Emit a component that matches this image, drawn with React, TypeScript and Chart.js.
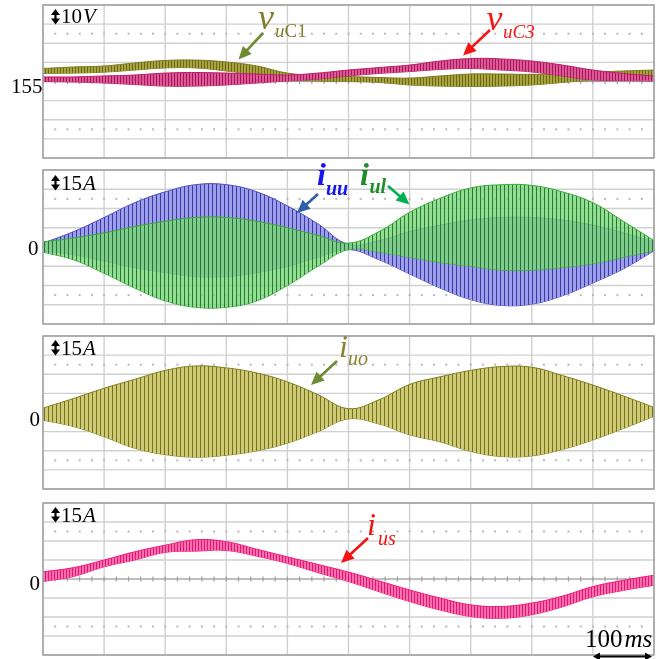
import React, { useEffect, useRef } from "react";
import { Chart, registerables } from "chart.js";
Chart.register(...registerables);

// ---------- data (time in ms, 21 samples) ----------
const timeMs = [0, 50, 100, 150, 200, 250, 300, 350, 400, 450, 500, 550, 600, 650, 700, 750, 800, 850, 900, 950, 1000];
const xGridMs = [0, 100, 200, 300, 400, 500, 600, 700, 800, 900, 1000];

// Panel 1: capacitor voltages (V), ripple envelopes
const vuC1Upper = [161.8, 162.6, 163.1, 164.7, 166.0, 166.2, 165.2, 163.1, 159.4, 158.1, 157.6, 157.1, 156.8, 157.9, 158.9, 158.9, 158.7, 159.2, 159.9, 160.5, 161.0];
const vuC1Lower = [159.2, 159.4, 159.9, 161.0, 162.1, 162.1, 160.5, 158.4, 156.3, 155.3, 155.0, 154.5, 153.2, 152.6, 152.4, 152.6, 153.2, 154.5, 155.8, 156.8, 157.9];
const vuC3Upper = [157.4, 157.4, 157.9, 158.4, 159.4, 159.7, 159.4, 158.9, 158.4, 159.4, 161.0, 162.3, 163.6, 165.7, 167.0, 166.8, 165.7, 163.6, 161.0, 159.2, 157.9];
const vuC3Lower = [155.0, 154.7, 154.2, 153.4, 152.6, 152.6, 153.2, 154.2, 155.3, 156.3, 157.9, 159.2, 160.2, 161.3, 161.8, 161.0, 160.0, 157.9, 155.8, 155.5, 155.3];

// Panel 2: arm currents (A)
const iuuUpper = [3, 12, 23, 34.5, 43, 48.6, 48.6, 43, 32, 18, 2, 5, 12, 17, 21, 23, 23, 21, 17, 11, 4];
const iuuLower = [-3, -6, -11, -16, -20, -23, -23, -20, -15, -8, -2, -10, -21, -32, -41, -45.5, -44.5, -38, -28, -17, -3];
const iulUpper = [4, 7, 11, 16, 20, 23, 23, 20, 15, 9, 3, 12, 27, 38, 46, 48.5, 48, 43, 34.5, 20, 5];
const iulLower = [-4, -10, -20.5, -32, -42, -47, -47, -42, -30, -15, -2, -4, -8, -12, -15, -18, -18, -16, -13, -8, -3];

// Panel 3: i_uo (A)
const iuoUpper = [3.5, 11, 19, 26, 33, 36.5, 35, 31, 24, 14, 3, 10, 22, 28, 33, 36, 35.5, 29, 21.5, 13, 4];
const iuoLower = [-6, -11, -19, -28, -33, -35, -33.5, -30, -24, -15, -5, -9, -17.5, -23, -30.5, -34.5, -34, -29, -21.5, -12.5, -3];

// Panel 4: i_us (A)
const iusUpper = [5.7, 9, 15, 21.5, 26.7, 31, 29.5, 23.5, 17.5, 11.5, 5.5, -1.5, -8.6, -15, -20.4, -21.7, -19, -13.5, -6, -1, 3];
const iusLower = [-2, 2, 9.6, 15, 21, 22, 22.5, 18, 12.3, 5, -2, -10, -17.8, -24.5, -29.6, -31, -28.2, -22, -14, -9, -5];

const scaleLabels = [["10", "V"], ["15", "A"], ["15", "A"], ["15", "A"]];
const levelLabels = ["155", "0", "0", "0"];
const timeScaleLabel = ["100", "ms"];

// ---------- drawing helpers ----------
const SERIF = '"Liberation Serif", "Times New Roman", Times, serif';
const font = (size: number, italic = false, bold = false) =>
  `${italic ? "italic " : ""}${bold ? "bold " : ""}${size}px ${SERIF}`;

function seg(ctx: CanvasRenderingContext2D, x1: number, y1: number, x2: number, y2: number) {
  ctx.beginPath();
  ctx.moveTo(x1, y1);
  ctx.lineTo(x2, y2);
  ctx.stroke();
}

function head(ctx: CanvasRenderingContext2D, fx: number, fy: number, tx: number, ty: number, len: number, hw: number) {
  const a = Math.atan2(ty - fy, tx - fx);
  const bx = tx - len * Math.cos(a);
  const by = ty - len * Math.sin(a);
  ctx.beginPath();
  ctx.moveTo(tx, ty);
  ctx.lineTo(bx + hw * Math.sin(a), by - hw * Math.cos(a));
  ctx.lineTo(bx - hw * Math.sin(a), by + hw * Math.cos(a));
  ctx.closePath();
  ctx.fill();
}

function arrow(ctx: CanvasRenderingContext2D, x1: number, y1: number, x2: number, y2: number, color: string) {
  ctx.save();
  ctx.strokeStyle = color;
  ctx.fillStyle = color;
  ctx.lineWidth = 2.6;
  const a = Math.atan2(y2 - y1, x2 - x1);
  seg(ctx, x1, y1, x2 - 10 * Math.cos(a), y2 - 10 * Math.sin(a));
  head(ctx, x1, y1, x2, y2, 13, 6);
  ctx.restore();
}

function scaleMark(ctx: CanvasRenderingContext2D, x: number, yTop: number, yBot: number, base: number, parts: string[]) {
  ctx.save();
  ctx.strokeStyle = "#000";
  ctx.fillStyle = "#000";
  ctx.lineWidth = 2.2;
  seg(ctx, x, yTop + 3, x, yBot - 3);
  head(ctx, x, yBot, x, yTop, 6, 4.5);
  head(ctx, x, yTop, x, yBot, 6, 4.5);
  ctx.font = font(21);
  ctx.textAlign = "left";
  ctx.textBaseline = "alphabetic";
  ctx.fillText(parts[0], x + 5.5, base);
  const w = ctx.measureText(parts[0]).width;
  ctx.font = font(21, true);
  ctx.fillText(parts[1], x + 6.5 + w, base);
  ctx.restore();
}

function levelText(ctx: CanvasRenderingContext2D, text: string, right: number, base: number) {
  ctx.save();
  ctx.fillStyle = "#000";
  ctx.font = font(21);
  ctx.textAlign = "right";
  ctx.textBaseline = "alphabetic";
  ctx.fillText(text, right, base);
  ctx.restore();
}

type Part = [string, boolean];
function seriesLabel(
  ctx: CanvasRenderingContext2D, color: string, main: string, mx: number, mBase: number, mSize: number,
  subs: Part[], sx: number, sBase: number, sSize: number, bold = false
) {
  ctx.save();
  ctx.fillStyle = color;
  ctx.textAlign = "left";
  ctx.textBaseline = "alphabetic";
  ctx.font = font(mSize, true, bold);
  ctx.fillText(main, mx, mBase);
  let cx = sx;
  subs.forEach(([t, it]) => {
    ctx.font = font(sSize, it, bold);
    ctx.fillText(t, cx, sBase);
    cx += ctx.measureText(t).width;
  });
  ctx.restore();
}

function makePattern(ctx: CanvasRenderingContext2D, dark: string, light: string, period: number, darkW: number) {
  const c = document.createElement("canvas");
  c.width = period;
  c.height = 4;
  const g = c.getContext("2d")!;
  g.fillStyle = light;
  g.fillRect(0, 0, period, 4);
  g.fillStyle = dark;
  g.fillRect(0, 0, darkW, 4);
  return ctx.createPattern(c, "repeat")!;
}

type Band = { upper: number[]; lower: number[]; dark: string; light: string; period: number; darkW: number; line: string };
type PanelCfg = {
  canvasTop: number; canvasHeight: number; padTop: number; padBottom: number;
  yMin: number; yMax: number; yStep: number; yCenter: number; dotRows: number[];
  bands: Band[];
  annotate: (ctx: CanvasRenderingContext2D, zeroY: number) => void;
};

const panels: PanelCfg[] = [
  {
    canvasTop: 0, canvasHeight: 160, padTop: 5, padBottom: 2,
    yMin: 115, yMax: 195, yStep: 10, yCenter: 155, dotRows: [180, 130],
    bands: [
      { upper: vuC3Upper, lower: vuC3Lower, dark: "rgb(178,16,92)", light: "rgb(214,92,150)", period: 3, darkW: 1, line: "rgb(190,30,105)" },
      { upper: vuC1Upper, lower: vuC1Lower, dark: "rgb(108,104,18)", light: "rgb(168,164,66)", period: 3, darkW: 1, line: "rgb(125,120,30)" },
    ],
    annotate: (ctx, zeroY) => {
      scaleMark(ctx, 55.5, 9, 24.5, 23.3, scaleLabels[0]);
      levelText(ctx, levelLabels[0], 42.5, zeroY + 11.5);
      seriesLabel(ctx, "rgb(128,126,44)", "v", 258, 28.5, 36, [["u", true], ["C1", false]], 275, 36.5, 19);
      arrow(ctx, 263, 33, 238.5, 59.5, "rgb(112,140,50)");
      seriesLabel(ctx, "rgb(245,20,20)", "v", 486.5, 30, 36, [["uC3", true]], 503, 38.3, 19);
      arrow(ctx, 490, 30, 463, 55.5, "rgb(245,20,20)");
    },
  },
  {
    canvasTop: 160, canvasHeight: 170, padTop: 10, padBottom: 6,
    yMin: -60, yMax: 60, yStep: 15, yCenter: 0, dotRows: [37.5, -37.5],
    bands: [
      { upper: iulUpper, lower: iulLower, dark: "rgba(22,112,48,0.9)", light: "rgba(122,214,118,0.8)", period: 4, darkW: 1, line: "rgb(60,170,60)" },
      { upper: iuuUpper, lower: iuuLower, dark: "rgb(56,56,178)", light: "rgb(158,158,230)", period: 4, darkW: 1, line: "rgb(80,80,190)" },
    ],
    annotate: (ctx, zeroY) => {
      scaleMark(ctx, 55.5, 175, 190.5, 190, scaleLabels[1]);
      levelText(ctx, levelLabels[1], 38.5, zeroY + 8);
      seriesLabel(ctx, "rgb(20,20,240)", "i", 317, 184.7, 32, [["uu", true]], 326, 194.5, 20, true);
      arrow(ctx, 318, 194, 297, 213, "rgb(45,94,170)");
      seriesLabel(ctx, "rgb(30,140,40)", "i", 360, 184.7, 32, [["ul", true]], 369.5, 193, 20, true);
      arrow(ctx, 388, 186, 409.5, 204.5, "rgb(0,176,80)");
    },
  },
  {
    canvasTop: 330, canvasHeight: 165, padTop: 6, padBottom: 6,
    yMin: -60, yMax: 60, yStep: 15, yCenter: 0, dotRows: [37.5, -37.5],
    bands: [
      { upper: iuoUpper, lower: iuoLower, dark: "rgb(118,114,18)", light: "rgb(206,202,122)", period: 4, darkW: 1, line: "rgb(130,125,30)" },
    ],
    annotate: (ctx, zeroY) => {
      scaleMark(ctx, 55.5, 340, 355.5, 355, scaleLabels[2]);
      levelText(ctx, levelLabels[2], 40, zeroY + 13.5);
      seriesLabel(ctx, "rgb(133,133,48)", "i", 339, 356.7, 32, [["uo", true]], 348, 365, 20);
      arrow(ctx, 337, 361, 311, 385, "rgb(110,139,50)");
    },
  },
  {
    canvasTop: 495, canvasHeight: 164, padTop: 8, padBottom: 4,
    yMin: -60, yMax: 60, yStep: 15, yCenter: 0, dotRows: [37.5, -37.5],
    bands: [
      { upper: iusUpper, lower: iusLower, dark: "rgb(230,20,120)", light: "rgb(246,112,172)", period: 3, darkW: 1, line: "rgb(236,30,128)" },
    ],
    annotate: (ctx, zeroY) => {
      scaleMark(ctx, 55.5, 507, 522.5, 522, scaleLabels[3]);
      levelText(ctx, levelLabels[3], 40, zeroY + 11);
      seriesLabel(ctx, "rgb(240,20,20)", "i", 367, 535, 32, [["us", true]], 378, 545, 20);
      arrow(ctx, 368, 538, 341, 563, "rgb(240,20,20)");
      // time scale
      ctx.save();
      ctx.fillStyle = "#000";
      ctx.textAlign = "left";
      ctx.textBaseline = "alphabetic";
      ctx.font = font(25);
      ctx.fillText(timeScaleLabel[0], 585, 646.5);
      const w = ctx.measureText(timeScaleLabel[0]).width;
      ctx.font = font(25, true);
      ctx.fillText(timeScaleLabel[1], 587 + w, 646.5);
      ctx.strokeStyle = "#000";
      ctx.lineWidth = 2;
      seg(ctx, 597, 656.5, 648, 656.5);
      head(ctx, 648, 656.5, 593, 656.5, 7, 4);
      head(ctx, 597, 656.5, 652, 656.5, 7, 4);
      ctx.restore();
    },
  },
];

function Panel({ cfg }: { cfg: PanelCfg }) {
  const ref = useRef<HTMLCanvasElement>(null);
  useEffect(() => {
    const canvas = ref.current!;
    const c2d = canvas.getContext("2d")!;
    const datasets: any[] = [];
    cfg.bands.forEach((b) => {
      const pat = makePattern(c2d, b.dark, b.light, b.period, b.darkW);
      datasets.push({
        data: b.upper.map((y, i) => ({ x: timeMs[i], y })),
        borderColor: b.line, borderWidth: 1, pointRadius: 0,
        tension: 0.4, fill: "+1", backgroundColor: pat,
      });
      datasets.push({
        data: b.lower.map((y, i) => ({ x: timeMs[i], y })),
        borderColor: b.line, borderWidth: 1, pointRadius: 0,
        tension: 0.4, fill: false,
      });
    });

    const decor = {
      id: "decor",
      beforeDatasetsDraw(chart: any) {
        const ctx: CanvasRenderingContext2D = chart.ctx;
        const { left, right, top, bottom } = chart.chartArea;
        const xs = chart.scales.x;
        const ys = chart.scales.y;
        ctx.save();
        ctx.fillStyle = "#fff";
        ctx.fillRect(left, top, right - left, bottom - top);
        ctx.strokeStyle = "#d0d0d0";
        ctx.lineWidth = 1.4;
        xGridMs.forEach((v) => {
          const px = xs.getPixelForValue(v);
          seg(ctx, px, top, px, bottom);
        });
        for (let v = cfg.yMin; v <= cfg.yMax + 1e-6; v += cfg.yStep) {
          const py = ys.getPixelForValue(v);
          seg(ctx, left, py, right, py);
        }
        ctx.fillStyle = "#b8b8b8";
        cfg.dotRows.forEach((v) => {
          const py = ys.getPixelForValue(v);
          for (let t = 0; t <= 1000; t += 20) {
            const px = xs.getPixelForValue(t);
            ctx.fillRect(px - 1, py - 1, 2, 2);
          }
        });
        const pc = ys.getPixelForValue(cfg.yCenter);
        ctx.strokeStyle = "#a0a0a0";
        ctx.lineWidth = 1.2;
        seg(ctx, left, pc, right, pc);
        for (let t = 0; t <= 1000; t += 20) {
          const px = xs.getPixelForValue(t);
          seg(ctx, px, pc - 2.5, px, pc + 2.5);
        }
        ctx.restore();
      },
      afterDatasetsDraw(chart: any) {
        const ctx: CanvasRenderingContext2D = chart.ctx;
        const { left, right, top, bottom } = chart.chartArea;
        ctx.save();
        ctx.strokeStyle = "#a4a4a4";
        ctx.lineWidth = 1.6;
        ctx.strokeRect(left, top, right - left, bottom - top);
        ctx.translate(0, -cfg.canvasTop);
        const zeroY = chart.scales.y.getPixelForValue(cfg.yCenter) + cfg.canvasTop;
        cfg.annotate(ctx, zeroY);
        ctx.restore();
      },
    };

    const chart = new Chart(canvas, {
      type: "line",
      data: { datasets },
      options: {
        animation: false,
        responsive: false,
        devicePixelRatio: 1,
        events: [],
        layout: { padding: { left: 43, right: 15, top: cfg.padTop, bottom: cfg.padBottom } },
        plugins: { legend: { display: false }, tooltip: { enabled: false } },
        scales: {
          x: { type: "linear", display: false, min: 0, max: 1000 },
          y: { type: "linear", display: false, min: cfg.yMin, max: cfg.yMax },
        },
      } as any,
      plugins: [decor],
    });
    return () => chart.destroy();
  }, [cfg]);
  return (
    <canvas
      ref={ref}
      width={669}
      height={cfg.canvasHeight}
      style={{ position: "absolute", left: 0, top: cfg.canvasTop, width: 669, height: cfg.canvasHeight }}
    />
  );
}

export default function App() {
  return (
    <div style={{ position: "absolute", left: 0, top: 0, width: 669, height: 659, background: "#fff", overflow: "hidden" }}>
      {panels.map((p, i) => (
        <Panel key={i} cfg={p} />
      ))}
    </div>
  );
}
